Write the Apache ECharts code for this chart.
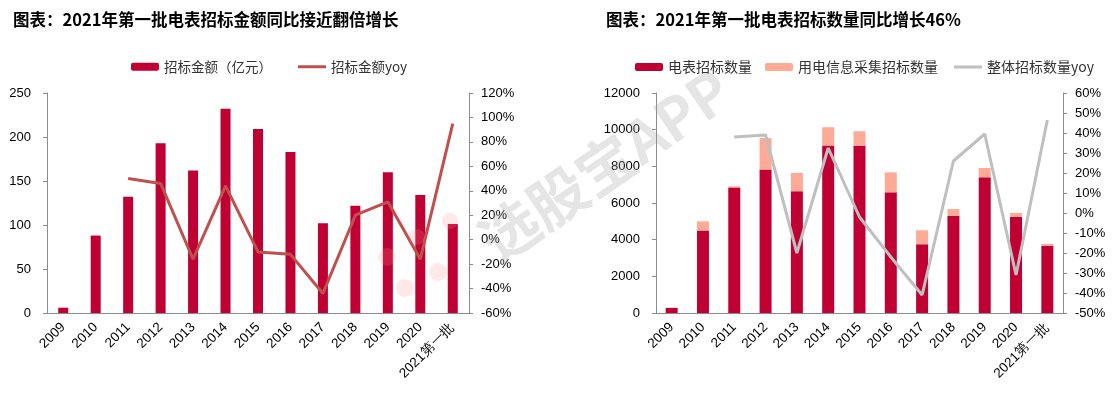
<!DOCTYPE html>
<html><head><meta charset="utf-8">
<script src="https://cdn.jsdelivr.net/npm/echarts@6/dist/echarts.min.js"></script>
<style>html,body{margin:0;padding:0;background:#fff}#c{width:1116px;height:396px}</style>
</head><body><div id="c"></div>
<script>
const categories = ['2009','2010','2011','2012','2013','2014','2015','2016','2017','2018','2019','2020','2021第一批'];
// Left chart
const amount = [6, 88, 132, 193, 162, 232, 209, 183, 102, 122, 160, 134, 101];
const amountYoy = [null, null, 50, 46, -16, 44, -10, -12, -44, 20, 31, -16, 95];
// Right chart
const meterCount = [280, 4500, 6850, 7830, 6640, 9130, 9120, 6580, 3750, 5290, 7400, 5240, 3660];
const collectCount = [0, 500, 60, 1710, 1000, 1000, 790, 1090, 760, 380, 510, 220, 110];
const totalYoy = [null, null, 38, 39, -20, 32.5, -2, -22, -41, 26, 39.5, -31, 46.5];

const leftTicks = {min: 0, max: 250, interval: 50};
const leftPct = {min: -60, max: 120, interval: 20};
const rightTicks = {min: 0, max: 12000, interval: 2000};
const rightPct = {min: -50, max: 60, interval: 10};

const RED = '#C00033', LINE_RED = '#C0504D', PINK = '#FDAA97', GRAY = '#BFBFBF', AX = '#8C8C8C';
const numFont = 'Liberation Sans, Arial, sans-serif';
const cjk = 'Noto Sans CJK SC, sans-serif';

function xAxis(gi){
  return {type:'category', gridIndex:gi, data:categories, boundaryGap:true,
    axisLine:{lineStyle:{color:AX,width:1}}, axisTick:{length:4,lineStyle:{color:AX}, alignWithLabel:false},
    axisLabel:{rotate:45, fontSize:13.5, color:'#000', fontFamily:numFont, margin:12, interval:0}};
}
function yAxis(gi, r, pos, margin, pct){
  return {type:'value', gridIndex:gi, position:pos, min:r.min, max:r.max, interval:r.interval,
    splitLine:{show:false},
    axisLine:{show:true, lineStyle:{color:AX,width:1}}, axisTick:{show:true,length:4,lineStyle:{color:AX}},
    axisLabel:{fontSize:13, color:'#000', fontFamily:numFont, margin:margin, formatter: pct ? (v=>v+'%') : (v=>v)}};
}
const legText = (s)=>({fontSize:s, color:'#333', fontFamily:cjk});

const chart = echarts.init(document.getElementById('c'), null, {renderer:'canvas'});
chart.setOption({
  animation:false,
  textStyle:{fontFamily:cjk},
  title:[
    {text:'图表：2021年第一批电表招标金额同比接近翻倍增长', left:8, top:6, textStyle:{fontSize:16.5, fontWeight:'bold', color:'#000', fontFamily:cjk}},
    {text:'图表：2021年第一批电表招标数量同比增长46%', left:601, top:6, textStyle:{fontSize:16.5, fontWeight:'bold', color:'#000', fontFamily:cjk}}
  ],
  legend:[
    {left:126, top:55, itemWidth:28, itemHeight:8, data:['招标金额（亿元）'], textStyle:legText(13.5)},
    {left:293, top:55, itemWidth:28, itemHeight:3, data:[{name:'招标金额yoy', icon:'rect'}], textStyle:legText(13.5)},
    {left:630, top:55, itemWidth:28, itemHeight:8, itemGap:13, data:['电表招标数量','用电信息采集招标数量'], textStyle:legText(14)},
    {left:949, top:55, itemWidth:28, itemHeight:3, data:[{name:'整体招标数量yoy', icon:'rect'}], textStyle:legText(14)}
  ],
  grid:[
    {left:47, right:647, top:93, bottom:83},
    {left:656, right:53, top:93, bottom:83}
  ],
  xAxis:[xAxis(0), xAxis(1)],
  yAxis:[
    yAxis(0, leftTicks, 'left', 16, false),
    yAxis(0, leftPct, 'right', 12, true),
    yAxis(1, rightTicks, 'left', 16, false),
    yAxis(1, rightPct, 'right', 12, true)
  ],
  graphic:[
    {type:'text', x:605, y:165, rotation:0.6, z:100, silent:true,
      style:{text:'选股宝APP', fontSize:58, fontWeight:'bold', fontFamily:cjk, fill:'rgba(160,160,160,0.28)', align:'center', verticalAlign:'middle'}},
    {type:'circle', shape:{cx:387,cy:257,r:9}, style:{fill:'rgba(255,140,140,0.2)'}, z:100, silent:true},
    {type:'circle', shape:{cx:417,cy:237,r:8}, style:{fill:'rgba(255,140,140,0.2)'}, z:100, silent:true},
    {type:'circle', shape:{cx:405,cy:288,r:9}, style:{fill:'rgba(255,140,140,0.2)'}, z:100, silent:true},
    {type:'circle', shape:{cx:438,cy:272,r:9}, style:{fill:'rgba(255,140,140,0.2)'}, z:100, silent:true},
    {type:'circle', shape:{cx:450,cy:221,r:8}, style:{fill:'rgba(255,140,140,0.2)'}, z:100, silent:true}
  ],
  series:[
    {name:'招标金额（亿元）', type:'bar', xAxisIndex:0, yAxisIndex:0, data:amount, barWidth:10, itemStyle:{color:RED}},
    {name:'招标金额yoy', type:'line', xAxisIndex:0, yAxisIndex:1, data:amountYoy, symbol:'none', lineStyle:{color:LINE_RED,width:3}, itemStyle:{color:LINE_RED}},
    {name:'电表招标数量', type:'bar', stack:'n', xAxisIndex:1, yAxisIndex:2, data:meterCount, barWidth:12, itemStyle:{color:RED}},
    {name:'用电信息采集招标数量', type:'bar', stack:'n', xAxisIndex:1, yAxisIndex:2, data:collectCount, barWidth:12, itemStyle:{color:PINK}},
    {name:'整体招标数量yoy', type:'line', xAxisIndex:1, yAxisIndex:3, data:totalYoy, symbol:'none', lineStyle:{color:GRAY,width:3}, itemStyle:{color:GRAY}}
  ]
});
</script></body></html>
